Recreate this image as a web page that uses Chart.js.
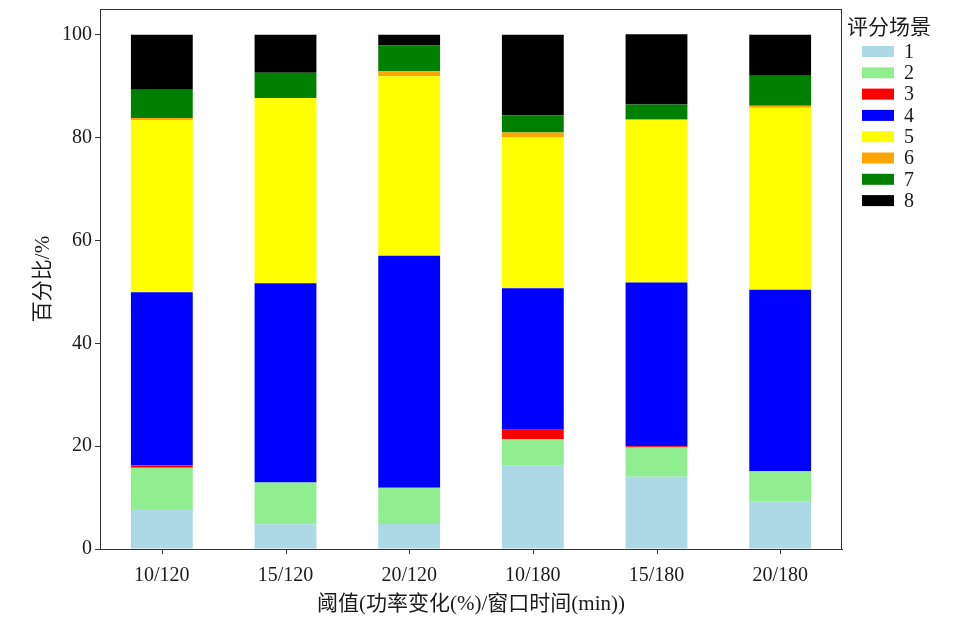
<!DOCTYPE html>
<html>
<head>
<meta charset="utf-8">
<script src="https://cdn.jsdelivr.net/npm/chart.js@4/dist/chart.umd.min.js"></script>
<style>
  html, body { margin: 0; padding: 0; background: #fff; }
  #wrap { width: 970px; height: 627px; }
</style>
</head>
<body>
<div id="wrap"><canvas id="chart" width="970" height="627"></canvas></div>
<script>
// categories: threshold / window
const categories = ['10/120', '15/120', '20/120', '10/180', '15/180', '20/180'];

// share (%) of each scoring scenario, bottom to top
const scene1 = [7.8, 4.8, 4.85, 16.2, 14.05, 9.25];
const scene2 = [8.0, 8.15, 7.05, 5.2, 5.7, 5.85];
const scene3 = [0.45, 0, 0, 1.8, 0.25, 0];
const scene4 = [33.65, 38.7, 45.1, 27.5, 31.8, 35.3];
const scene5 = [33.5, 36.05, 34.9, 29.4, 31.6, 35.4];
const scene6 = [0.4, 0, 1.0, 0.9, 0.1, 0.4];
const scene7 = [5.5, 4.9, 5.0, 3.3, 2.95, 5.8];
const scene8 = [10.7, 7.4, 2.1, 15.7, 13.65, 8.0];

const sceneLabels = ['1', '2', '3', '4', '5', '6', '7', '8'];
const sceneColors = ['#ADD8E6', '#90EE90', '#FF0000', '#0000FF', '#FFFF00', '#FFA500', '#008000', '#000000'];
const yTicks = [0, 20, 40, 60, 80, 100];

const FONT = '"Liberation Serif", "Noto Sans CJK SC", serif';
const TEXT = '#1a1a1a';

const seriesData = [scene1, scene2, scene3, scene4, scene5, scene6, scene7, scene8];

const datasets = seriesData.map((d, i) => ({
    label: sceneLabels[i],
    data: d,
    backgroundColor: sceneColors[i],
    borderWidth: 0,
    barPercentage: 0.5,
    categoryPercentage: 1.0
}));

// frame around the panel + x tick marks at bar centres
const framePlugin = {
    id: 'frame',
    afterDraw(chart) {
        const { ctx, chartArea: a } = chart;
        const xs = chart.scales.x;
        ctx.save();
        ctx.strokeStyle = '#333';
        ctx.lineWidth = 1;
        ctx.strokeRect(a.left + 0.5, a.top + 0.5, a.right - a.left - 1, a.bottom - a.top);
        ctx.beginPath();
        categories.forEach((c, i) => {
            const px = Math.round(xs.getPixelForValue(i)) + 0.5;
            ctx.moveTo(px, a.bottom);
            ctx.lineTo(px, a.bottom + 5);
        });
        ctx.stroke();
        ctx.restore();
    }
};

// legend on the right, ggplot style
const legendPlugin = {
    id: 'sideLegend',
    afterDraw(chart) {
        const ctx = chart.ctx;
        ctx.save();
        ctx.fillStyle = TEXT;
        ctx.textBaseline = 'middle';
        ctx.textAlign = 'left';
        ctx.font = '21px ' + FONT;
        ctx.fillText('评分场景', 847, 28);
        ctx.font = '20px ' + FONT;
        chart.data.datasets.forEach((ds, i) => {
            const cy = 51.5 + i * 21.3;
            ctx.fillStyle = ds.backgroundColor;
            ctx.fillRect(862, cy - 5.5, 32, 11);
            ctx.fillStyle = TEXT;
            ctx.fillText(ds.label, 904, cy + 1);
        });
        ctx.restore();
    }
};

new Chart(document.getElementById('chart').getContext('2d'), {
    type: 'bar',
    data: { labels: categories, datasets: datasets },
    options: {
        responsive: false,
        animation: false,
        layout: { padding: { left: 0, right: 128, top: 9, bottom: 0 } },
        plugins: {
            legend: { display: false },
            tooltip: { enabled: false }
        },
        scales: {
            x: {
                stacked: true,
                grid: { display: false },
                border: { display: true, color: '#333', width: 1 },
                ticks: { color: TEXT, font: { family: FONT, size: 20 }, padding: 7 },
                title: {
                    display: true,
                    text: '阈值(功率变化(%)/窗口时间(min))',
                    color: TEXT,
                    font: { family: FONT, size: 21 },
                    padding: { top: 0, bottom: 10 }
                },
                afterFit(scale) { scale.height = 78; }
            },
            y: {
                stacked: true,
                min: 0,
                max: 105,
                afterBuildTicks(scale) { scale.ticks = yTicks.map(v => ({ value: v })); },
                grid: { display: true, drawOnChartArea: false, drawTicks: true, tickLength: 5, color: '#333' },
                border: { display: true, color: '#333', width: 1 },
                ticks: { color: TEXT, font: { family: FONT, size: 20, lineHeight: 0.5 }, padding: 3 },
                title: {
                    display: true,
                    text: '百分比/%',
                    color: TEXT,
                    font: { family: FONT, size: 21 },
                    padding: { top: 31, bottom: 0 }
                },
                afterFit(scale) { scale.width = 100; }
            }
        }
    },
    plugins: [framePlugin, legendPlugin]
});
</script>
</body>
</html>
